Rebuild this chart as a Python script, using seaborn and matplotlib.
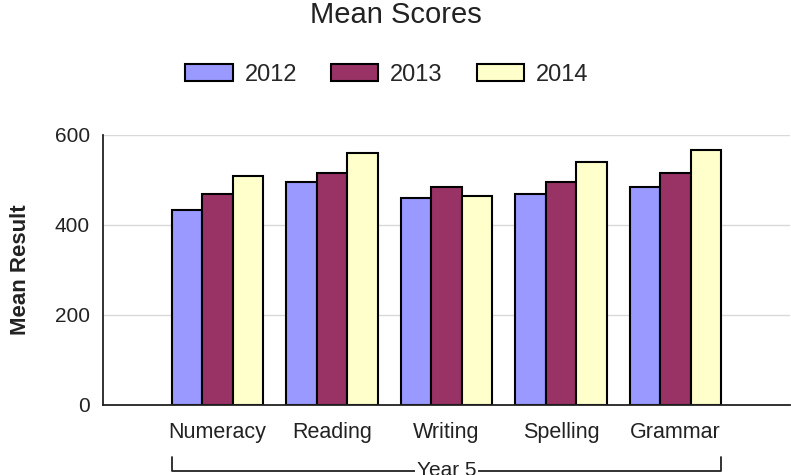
import pandas as pd
import seaborn as sns
import matplotlib.pyplot as plt

# data
subjects = ['Numeracy', 'Reading', 'Writing', 'Spelling', 'Grammar']
years = ['2012', '2013', '2014']
scores_2012 = [434, 495, 459, 469, 484]
scores_2013 = [469, 515, 484, 495, 515]
scores_2014 = [508, 560, 464, 539, 567]
colors = ['#9999FF', '#993366', '#FFFFCC']

df = pd.DataFrame({
    'Subject': subjects * 3,
    'Year': [y for y in years for _ in subjects],
    'Score': scores_2012 + scores_2013 + scores_2014,
})

sns.set_style('white')
plt.rcParams['font.family'] = ['Liberation Sans', 'DejaVu Sans']

fig = plt.figure(figsize=(7.91, 4.75), dpi=100)
ax = fig.add_axes([0.1302, 0.1474, 0.8685, 0.5684])

sns.barplot(data=df, x='Subject', y='Score', hue='Year', palette=colors,
            saturation=1, edgecolor='black', linewidth=1.5, width=0.8, ax=ax)

ax.set_xlim(-1, 5)
ax.set_ylim(0, 600)
ax.set_yticks([0, 200, 400, 600])
ax.yaxis.grid(True, color='#d9d9d9', linewidth=1)
ax.set_axisbelow(True)

for side in ['top', 'right']:
    ax.spines[side].set_visible(False)
for side in ['left', 'bottom']:
    ax.spines[side].set_color('#222222')
    ax.spines[side].set_linewidth(1.3)

ax.tick_params(axis='y', direction='out', length=6.5, width=1.2, pad=3,
               labelsize=15, colors='#222222')
ax.tick_params(axis='x', direction='out', length=4, width=1.2, pad=8,
               labelsize=15.5, colors='#222222')
ax.set_xlabel('')
ax.set_ylabel('Mean Result', fontsize=16, fontweight='bold', color='#222222')
ax.yaxis.set_label_coords(-0.105, 0.5)

# legend on top
handles, labels = ax.get_legend_handles_labels()
ax.legend_.remove()
fig.legend(handles, labels, loc='center', bbox_to_anchor=(387 / 791, 1 - 75 / 475),
           ncol=3, frameon=False, fontsize=17, handlelength=2.0, handleheight=0.75,
           handletextpad=0.5, columnspacing=1.45)

fig.text(0.5, 1 - 23 / 475, 'Mean Scores', ha='center', va='baseline',
         fontsize=21, color='#222222')

# bracket grouping the categories
trans = ax.get_xaxis_transform()
ax.plot([-0.4, -0.4, 4.4, 4.4], [-0.193, -0.244, -0.244, -0.193], transform=trans,
        color='#222222', linewidth=1.3, clip_on=False)
ax.text(2, -0.244, 'Year 5', transform=trans, ha='center', va='center',
        fontsize=15, color='#222222', clip_on=False,
        bbox=dict(facecolor='white', edgecolor='none', pad=1))

fig.savefig('out.png', dpi=100)
